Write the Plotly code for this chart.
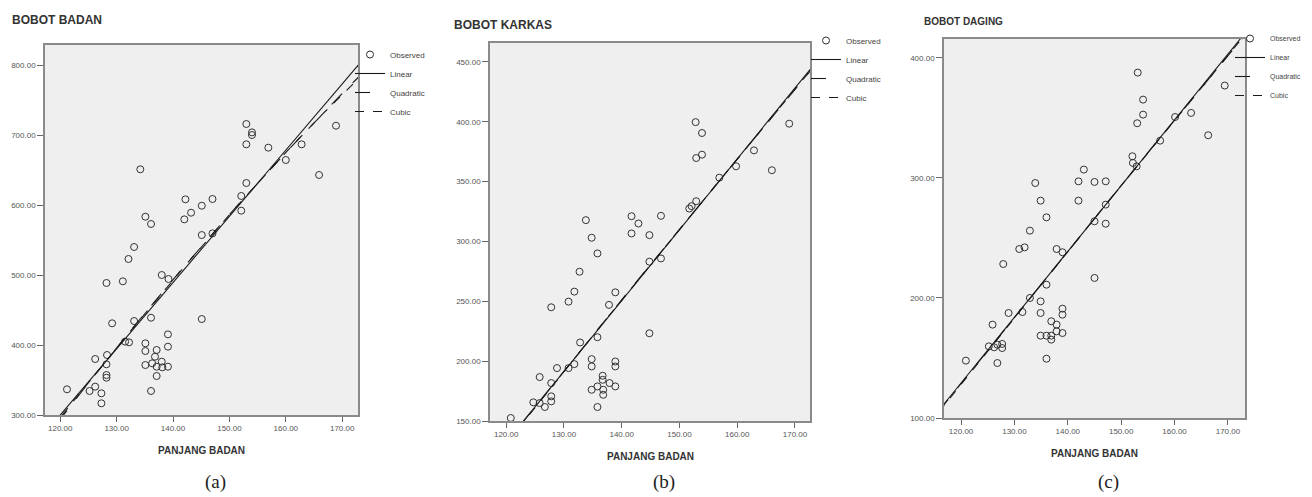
import numpy as np
import plotly.graph_objects as go

# ---------------- data ----------------
# Panel (a): BOBOT BADAN vs PANJANG BADAN
pb_a = [134.2, 153.0, 154.0, 154.0, 153.0, 156.9, 160.0, 162.8, 168.9, 165.9,
        153.0, 152.1, 152.1, 142.2, 145.1, 147.0, 143.2, 142.0, 135.1, 136.1,
        145.1, 147.0, 133.1, 132.1, 128.2, 131.1, 138.0, 139.2, 129.2, 133.1,
        136.1, 145.1, 131.5, 132.2, 139.1, 139.1, 135.1, 135.1, 137.1, 126.2,
        128.3, 128.2, 128.2, 128.2, 135.1, 136.3, 137.1, 138.0, 138.1, 139.1,
        137.1, 136.1, 121.2, 125.2, 126.2, 127.3, 127.3, 136.8]
bobot_badan = [651, 715.7, 703.8, 700, 686.7, 681.9, 664.3, 686.7, 713.3, 642.9,
               631.4, 612.9, 591.9, 608.1, 599, 608.6, 589, 579.5, 583.3, 572.9,
               557.1, 559.5, 540, 522.9, 488.6, 491, 500, 494.3, 431, 434.3,
               439, 437.1, 404.8, 403.8, 415.2, 397.6, 402.4, 391.4, 392.9, 380,
               385.7, 372.4, 357.1, 353.3, 371.4, 373.8, 369, 376.2, 368.1, 369,
               355.7, 334.3, 336.7, 334.3, 340.5, 331, 316.7, 383.3]

# Panel (b): BOBOT KARKAS vs PANJANG BADAN
pb_b = [152.8, 153.9, 153.9, 152.9, 169.0, 162.9, 159.8, 166.0, 156.9, 152.9,
        152.1, 151.7, 133.8, 141.7, 142.9, 146.8, 134.8, 141.7, 144.8, 135.8,
        146.8, 144.8, 132.7, 131.8, 138.9, 130.8, 127.8, 137.8, 144.8, 135.8,
        132.8, 131.8, 130.8, 128.8, 125.8, 134.8, 134.8, 138.9, 138.9, 127.8,
        136.7, 136.7, 137.9, 135.8, 134.8, 138.9, 136.8, 136.8, 124.7, 127.8,
        127.8, 126.7, 135.8, 120.8, 125.8]
bobot_karkas = [399.7, 390.6, 372.5, 369.7, 398.4, 376.1, 362.8, 359.5, 353.3, 333.6,
                329.5, 327.5, 317.8, 321.1, 315, 321.4, 303.1, 306.7, 305.3, 290,
                285.8, 283.1, 274.7, 258.1, 257.5, 249.7, 245, 247, 223.3, 220,
                215.6, 197.5, 194.2, 194.2, 186.7, 201.7, 195.6, 199.7, 195.6, 181.7,
                187.8, 184.4, 181.7, 178.9, 176.1, 178.9, 176.1, 171.9, 165.6, 170.6,
                166.4, 161.7, 161.7, 152.5, 165]

# Panel (c): BOBOT DAGING vs PANJANG BADAN
pb_c = [153.1, 154.1, 154.1, 153.0, 169.4, 163.1, 160.1, 166.3, 157.3, 152.1,
        152.2, 152.9, 143.0, 133.9, 142.0, 145.0, 147.1, 134.9, 142.0, 136.0,
        147.1, 145.0, 147.1, 132.9, 130.9, 131.9, 137.9, 139.0, 127.9, 145.0,
        136.0, 132.9, 134.9, 128.9, 131.5, 134.9, 139.0, 139.0, 125.9, 136.9,
        137.9, 134.9, 136.0, 136.9, 136.9, 139.0, 137.9, 125.2, 126.8, 127.7,
        127.7, 120.9, 126.8, 136.0, 126.2]
bobot_daging = [387.8, 365.3, 352.8, 345.6, 377, 354.2, 350.8, 335.6, 331.1, 318.1,
                312.5, 309.7, 307, 295.8, 297.2, 296.7, 297.2, 281.1, 281.1, 267.2,
                277.8, 263.9, 261.9, 256.1, 240.8, 242.2, 240.8, 238.1, 228.3, 216.7,
                211.1, 200, 197.2, 187.5, 188.3, 187.5, 191.1, 186.1, 177.8, 180.6,
                177.8, 168.6, 168.6, 168.6, 165.3, 170.8, 172.2, 159.7, 161.1, 161.7,
                158.3, 147.8, 145.8, 149.4, 158.9]

# Fitted curves as drawn in the reference (coefficients in powers of (x - 145))
fit_center = 145.0
fit_a = {"Linear": [536.5, 9.46], "Quadratic": [540.5, 9.30, -0.022],
         "Cubic": [540.0, 9.35, -0.020, -0.0002]}
fit_b = {"Linear": [280.2, 5.92], "Quadratic": [280.8, 5.90, -0.002],
         "Cubic": [280.6, 5.91, -0.002, 0.00001]}
fit_c = {"Linear": [266.2, 5.48], "Quadratic": [266.7, 5.46, -0.002],
         "Cubic": [266.5, 5.47, -0.002, 0.00001]}

panel_titles = ["BOBOT BADAN", "BOBOT KARKAS", "BOBOT DAGING"]
panel_labels = ["(a)", "(b)", "(c)"]
x_title = "PANJANG BADAN"

x_ranges = [[117.3, 172.8], [117.2, 172.6], [116.8, 173.2]]
y_ranges = [[300, 828.6], [150, 465.8], [100, 415.8]]
y_dticks = [100, 50, 100]

# ---------------- layout geometry ----------------
# positions below are page pixels of the 1312x497 window; the page body has an
# 8px margin, so the figure itself is drawn 8px in from the top-left corner
# and extends to the right/bottom edge of the window.
PAGE_W, PAGE_H, OFF = 1312, 497, 8
W, H = PAGE_W - OFF, PAGE_H - OFF
boxes = [(45, 358, 45, 415), (490, 810, 43, 421), (944, 1245, 39, 418)]
legend_pos = [(350, 40), (806, 26), (1230, 24)]
legend_font = [8, 8, 7]
title_pos = [(10, 20, 12), (452, 25, 12), (922, 22, 10)]


def fx(px):
    return (px - OFF) / W


def fy(py):
    return 1 - (py - OFF) / H


fig = go.Figure()
panels = [(pb_a, bobot_badan, fit_a), (pb_b, bobot_karkas, fit_b), (pb_c, bobot_daging, fit_c)]
line_styles = [("Linear", "solid"), ("Quadratic", "longdash"), ("Cubic", "dash")]

for i, (xs, ys, fits) in enumerate(panels):
    sfx = "" if i == 0 else str(i + 1)
    xa, ya = "x" + sfx, "y" + sfx
    leg = "legend" + sfx
    fig.add_trace(go.Scatter(
        x=xs, y=ys, mode="markers", name="Observed", xaxis=xa, yaxis=ya, legend=leg,
        marker=dict(symbol="circle-open", size=7, color="#333333", line=dict(width=1)),
    ))
    grid = np.linspace(x_ranges[i][0] - 1, x_ranges[i][1] + 1, 300)
    for name, dash in line_styles:
        coef = fits[name][::-1]
        fig.add_trace(go.Scatter(
            x=grid, y=np.polyval(coef, grid - fit_center), mode="lines", name=name,
            xaxis=xa, yaxis=ya, legend=leg,
            line=dict(color="#1a1a1a", width=1.1, dash=dash),
        ))

tick_font = dict(family="Liberation Sans, Arial, sans-serif", size=8, color="#555555")
layout = dict(
    width=W, height=H, margin=dict(l=0, r=0, t=0, b=0),
    paper_bgcolor="white", plot_bgcolor="#efefef", showlegend=True,
    annotations=[],
)
for i in range(3):
    sfx = "" if i == 0 else str(i + 1)
    x0, x1, y0, y1 = boxes[i]
    layout["xaxis" + sfx] = dict(
        domain=[fx(x0), fx(x1)], anchor="y" + sfx, range=x_ranges[i], automargin=False,
        tick0=120, dtick=10, tickformat=".2f", ticks="outside", ticklen=5,
        tickcolor="#666666", tickfont=tick_font, showgrid=False, zeroline=False,
        showline=True, linecolor="#8a8a8a", linewidth=1.5, mirror=True,
    )
    layout["yaxis" + sfx] = dict(
        domain=[fy(y1), fy(y0)], anchor="x" + sfx, range=y_ranges[i], automargin=False,
        tick0=0, dtick=y_dticks[i], tickformat=".2f", ticks="outside", ticklen=6,
        tickcolor="#666666", tickfont=tick_font, showgrid=False, zeroline=False,
        showline=True, linecolor="#8a8a8a", linewidth=1.5, mirror=True,
    )
    lx, ly = legend_pos[i]
    layout["legend" + sfx] = dict(
        x=fx(lx), y=fy(ly), xanchor="left", yanchor="top",
        bgcolor="rgba(0,0,0,0)", itemwidth=30, tracegroupgap=0,
        font=dict(family="Liberation Sans, Arial, sans-serif", size=legend_font[i], color="#444444"),
    )
    tx, ty, ts = title_pos[i]
    layout["annotations"].append(dict(
        text="<b>" + panel_titles[i] + "</b>", xref="paper", yref="paper",
        x=fx(tx), y=fy(ty), xanchor="left", yanchor="middle", showarrow=False,
        font=dict(family="Liberation Sans, Arial, sans-serif", size=ts, color="#333333"),
    ))
    cx = (x0 + x1) / 2
    layout["annotations"].append(dict(
        text="<b>" + x_title + "</b>", xref="paper", yref="paper",
        x=fx(cx), y=fy(y1 + 35), xanchor="center", yanchor="middle", showarrow=False,
        font=dict(family="Liberation Sans, Arial, sans-serif", size=10, color="#333333"),
    ))
    layout["annotations"].append(dict(
        text=panel_labels[i], xref="paper", yref="paper",
        x=fx(cx + 14), y=fy(482), xanchor="center", yanchor="middle", showarrow=False,
        font=dict(family="Liberation Serif, Times New Roman, serif", size=19, color="#222222"),
    ))

fig.update_layout(**layout)
fig.write_html("out.html")
